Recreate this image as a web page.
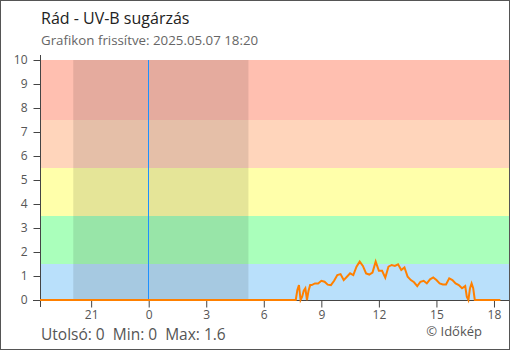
<!DOCTYPE html>
<html>
<head>
<meta charset="utf-8">
<script src="https://cdn.jsdelivr.net/npm/d3@7"></script>
<style>
  body { margin: 0; background: #fff; }
  text { font-family: 'Open Sans', sans-serif; }
</style>
</head>
<body>
<div id="chart"></div>
<script>
// measurement times (local) and UV-B values
const times = [
  '2025-05-06 18:20', '2025-05-07 07:40', '2025-05-07 07:45', '2025-05-07 07:50',
  '2025-05-07 07:55', '2025-05-07 08:00', '2025-05-07 08:05', '2025-05-07 08:10',
  '2025-05-07 08:15', '2025-05-07 08:20', '2025-05-07 08:25', '2025-05-07 08:30',
  '2025-05-07 08:40', '2025-05-07 08:50', '2025-05-07 09:00', '2025-05-07 09:10',
  '2025-05-07 09:20', '2025-05-07 09:30', '2025-05-07 09:40', '2025-05-07 09:50',
  '2025-05-07 10:00', '2025-05-07 10:10', '2025-05-07 10:20', '2025-05-07 10:30',
  '2025-05-07 10:40', '2025-05-07 10:50', '2025-05-07 11:00', '2025-05-07 11:10',
  '2025-05-07 11:20', '2025-05-07 11:30', '2025-05-07 11:40', '2025-05-07 11:50',
  '2025-05-07 12:00', '2025-05-07 12:10', '2025-05-07 12:20', '2025-05-07 12:30',
  '2025-05-07 12:40', '2025-05-07 12:50', '2025-05-07 13:00', '2025-05-07 13:10',
  '2025-05-07 13:20', '2025-05-07 13:30', '2025-05-07 13:40', '2025-05-07 13:50',
  '2025-05-07 14:00', '2025-05-07 14:10', '2025-05-07 14:20', '2025-05-07 14:30',
  '2025-05-07 14:40', '2025-05-07 14:50', '2025-05-07 15:00', '2025-05-07 15:10',
  '2025-05-07 15:20', '2025-05-07 15:30', '2025-05-07 15:40', '2025-05-07 15:50',
  '2025-05-07 16:00', '2025-05-07 16:10', '2025-05-07 16:20', '2025-05-07 16:30',
  '2025-05-07 16:35', '2025-05-07 16:40', '2025-05-07 16:45', '2025-05-07 16:50',
  '2025-05-07 16:55', '2025-05-07 17:00', '2025-05-07 18:20'
]
const values = [
  0, 0, 0.42, 0.62,
  0, 0.14, 0.39, 0.49,
  0, 0.39, 0.62, 0.62,
  0.69, 0.69, 0.8, 0.76,
  0.64, 0.62, 0.8, 1.04,
  1.08, 0.83, 0.97, 1.11,
  1.04, 1.39, 1.6, 1.42,
  1.11, 1.06, 1.14, 1.6,
  1.22, 1.22, 0.93, 1.39,
  1.46, 1.42, 1.49, 1.25,
  1.36, 0.97, 0.83, 0.74,
  0.58, 0.76, 0.8, 0.69,
  0.86, 0.94, 0.83, 0.69,
  0.65, 0.65, 0.9, 0.83,
  0.69, 0.62, 0.49, 0.58,
  0.14, 0, 0.49, 0.69,
  0.49, 0, 0
]

// UV level bands
const bandLimits = [0, 1.5, 3.5, 5.5, 7.5, 10]
const bandColors = ['#b9e0fb', '#aaffbb', '#ffffaa', '#ffd5bb', '#ffbfb0']

// night (sunset .. sunrise) and midnight marker
const night = ['2025-05-06 20:04', '2025-05-07 05:12']
const midnight = '2025-05-07 00:00'
const xDomain = ['2025-05-06 18:20', '2025-05-07 18:47']
const yTicks = [0, 1, 2, 3, 4, 5, 6, 7, 8, 9, 10]

const title = 'Rád - UV-B sugárzás'
const subtitle = 'Grafikon frissítve: 2025.05.07 18:20'
const summary = 'Utolsó: 0  Min: 0  Max: 1.6'
const credit = '© Időkép'

const W = 510
const H = 350
const margin = { top: 60, right: 1, bottom: 50, left: 40 }

const parse = d3.timeParse('%Y-%m-%d %H:%M')
const data = times.map((t, i) => ({ date: parse(t), value: values[i] }))

const svg = d3
  .select('#chart')
  .append('svg')
  .attr('width', W)
  .attr('height', H)

const x = d3
  .scaleTime()
  .domain(xDomain.map(parse))
  .range([margin.left, W - margin.right])

const y = d3
  .scaleLinear()
  .domain([0, 10])
  .range([H - margin.bottom, margin.top])

// bands
svg
  .selectAll('.band')
  .data(bandColors)
  .enter()
  .append('rect')
  .attr('class', 'band')
  .attr('x', margin.left)
  .attr('width', W - margin.right - margin.left)
  .attr('y', (d, i) => y(bandLimits[i + 1]))
  .attr('height', (d, i) => y(bandLimits[i]) - y(bandLimits[i + 1]))
  .attr('fill', d => d)

// night shading
svg
  .append('rect')
  .attr('x', x(parse(night[0])))
  .attr('width', x(parse(night[1])) - x(parse(night[0])))
  .attr('y', y(10))
  .attr('height', y(0) - y(10))
  .attr('fill', 'rgba(0,0,0,0.1)')

// midnight line
const mx = Math.floor(x(parse(midnight))) + 0.5
svg
  .append('line')
  .attr('x1', mx)
  .attr('x2', mx)
  .attr('y1', y(10))
  .attr('y2', y(0))
  .style('stroke', '#1e90ff')
  .style('stroke-width', '1px')

// axes
const axisColor = '#444'
const labelColor = '#555'

const yAxis = d3
  .axisLeft(y)
  .tickValues(yTicks)
  .tickSize(7)
  .tickPadding(6)
  .tickSizeOuter(0)

svg
  .append('g')
  .attr('class', 'y-axis')
  .attr('transform', 'translate(' + (margin.left + 0.5) + ',0)')
  .call(yAxis)

const xAxis = d3
  .axisBottom(x)
  .ticks(d3.timeHour.every(3))
  .tickFormat(d3.timeFormat('%-H'))
  .tickSize(7)
  .tickPadding(3)
  .tickSizeOuter(0)

svg
  .append('g')
  .attr('class', 'x-axis')
  .attr('transform', 'translate(0,' + (y(0) + 0.5) + ')')
  .call(xAxis)

svg.selectAll('.domain').remove()
svg.selectAll('.tick line').attr('stroke', axisColor)
svg
  .selectAll('.tick text')
  .attr('fill', labelColor)
  .style('font-size', '12px')
  .style('font-family', "'Open Sans', sans-serif")

// axis lines extended past the corner
svg
  .append('line')
  .attr('x1', margin.left + 0.5)
  .attr('x2', margin.left + 0.5)
  .attr('y1', y(10) - 5)
  .attr('y2', y(0) + 7)
  .attr('stroke', axisColor)
svg
  .append('line')
  .attr('x1', margin.left - 7)
  .attr('x2', W)
  .attr('y1', y(0) + 0.5)
  .attr('y2', y(0) + 0.5)
  .attr('stroke', axisColor)

// UV-B line
const line = d3
  .line()
  .x(d => x(d.date))
  .y(d => y(d.value))

svg
  .append('path')
  .datum(data)
  .attr('d', line)
  .attr('fill', 'none')
  .attr('stroke', '#ff8000')
  .attr('stroke-width', 2)
  .attr('stroke-linejoin', 'miter')

// texts
svg
  .append('text')
  .attr('x', 41)
  .attr('y', 24)
  .attr('fill', '#222')
  .style('font-size', '16px')
  .text(title)

svg
  .append('text')
  .attr('x', 41)
  .attr('y', 45)
  .attr('fill', '#666')
  .style('font-size', '13.3px')
  .text(subtitle)

svg
  .append('text')
  .attr('x', 41)
  .attr('y', 340)
  .attr('fill', '#555')
  .style('font-size', '15.5px')
  .style('white-space', 'pre')
  .attr('xml:space', 'preserve')
  .text(summary)

svg
  .append('text')
  .attr('x', 482)
  .attr('y', 336)
  .attr('text-anchor', 'end')
  .attr('fill', '#555')
  .style('font-size', '13px')
  .text(credit)

// outer frame
svg
  .append('rect')
  .attr('x', 0.5)
  .attr('y', 0.5)
  .attr('width', W - 1)
  .attr('height', H - 1)
  .attr('fill', 'none')
  .attr('stroke', '#555')
</script>
</body>
</html>
